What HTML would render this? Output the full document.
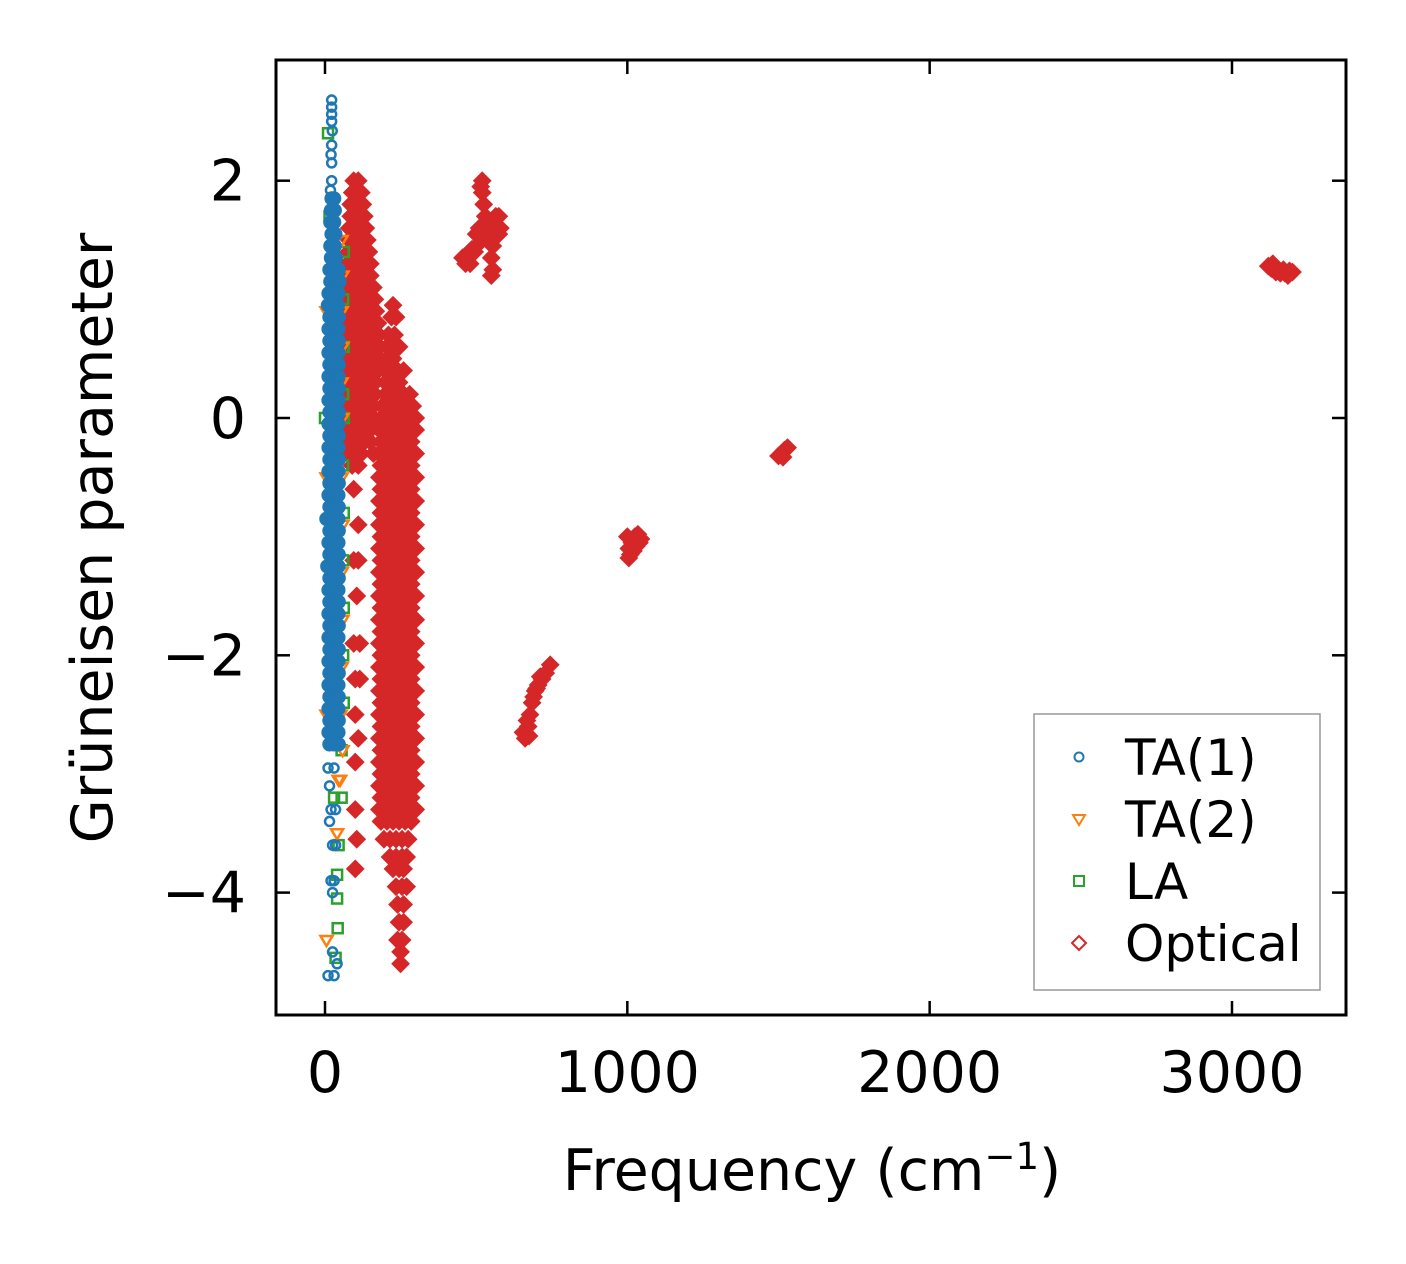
<!DOCTYPE html>
<html><head><meta charset="utf-8">
<style>
html,body{margin:0;padding:0;background:#fff;}
svg{display:block;font-family:"DejaVu Sans","Liberation Sans",sans-serif;}
</style></head>
<body>
<svg id="chart" width="1406" height="1264" viewBox="0 0 1406 1264">
<rect x="0" y="0" width="1406" height="1264" fill="#fff"/>
<g id="marks"></g>
<rect x="276" y="60" width="1070" height="955" fill="none" stroke="#000" stroke-width="3"/>
<g id="ticks"></g>
<text x="112" y="538" font-size="57" text-anchor="middle" transform="rotate(-90 112 538)">Grüneisen parameter</text>
<text x="812" y="1190" font-size="57" text-anchor="middle">Frequency (cm<tspan baseline-shift="super" font-size="37">−1</tspan>)</text>
<g>
<rect x="1034" y="714" width="286" height="276" fill="#fff" stroke="#999" stroke-width="1.5"/>
<circle cx="1079" cy="757" r="4.5" fill="none" stroke="#1f77b4" stroke-width="2"/>
<text x="1125" y="775" font-size="50">TA(1)</text>
<polygon points="1073,815 1085,815 1079,825" fill="none" stroke="#ff7f0e" stroke-width="2"/>
<text x="1125" y="837" font-size="50">TA(2)</text>
<rect x="1074" y="876" width="10" height="10" fill="none" stroke="#2ca02c" stroke-width="2"/>
<text x="1125" y="899" font-size="50">LA</text>
<polygon points="1079,936 1086,943 1079,950 1072,943" fill="none" stroke="#d62728" stroke-width="2"/>
<text x="1125" y="961" font-size="50">Optical</text>
</g>
</svg>
<script>
const xTicks=[0,1000,2000,3000];
const yTicks=[2,0,-2,-4];
const yTickLabels=["2","0","\u22122","\u22124"];
const colB=[180,200,220,240,260,280,300];
const colBn=[185,205,225,245,265,285];
const ta1Rows=[[2.68,[22]],[2.62,[22]],[2.56,[22]],[2.5,[22]],[2.42,[24]],[2.3,[22]],[2.22,[20]],[2.15,[22]],[2.0,[22]],[1.92,[18]],[1.85,[22,30]],[1.75,[20,32]],[1.65,[18,30]],[1.55,[22,34]],[1.45,[18,32]],[1.35,[20,36]],[1.25,[15,30,45]],[1.15,[18,34,48]],[1.05,[12,28,44]],[0.95,[10,26,42]],[0.85,[15,30,45]],[0.75,[12,28,44]],[0.65,[15,30,45]],[0.55,[12,28,44]],[0.45,[15,30,45]],[0.35,[12,28,44]],[0.25,[15,30,45]],[0.15,[12,28,44]],[0.05,[15,30,45]],[-0.05,[12,28,44]],[-0.15,[15,30,45]],[-0.25,[12,28,44]],[-0.35,[15,30,45]],[-0.45,[12,28,44]],[-0.55,[15,30,45]],[-0.65,[12,28,44]],[-0.75,[15,30,45]],[-0.85,[5,28,44]],[-0.95,[15,30,45]],[-1.05,[12,28,44]],[-1.15,[15,30,45]],[-1.25,[8,28,44]],[-1.35,[15,30,45]],[-1.45,[12,28,44]],[-1.55,[15,30,45]],[-1.65,[12,28,44]],[-1.75,[15,30,45]],[-1.85,[12,28,44]],[-1.95,[15,30,45]],[-2.05,[12,28,44]],[-2.15,[15,30,45]],[-2.25,[12,28,44]],[-2.35,[15,30,45]],[-2.45,[12,28,44]],[-2.55,[15,30,45]],[-2.65,[12,28,44]],[-2.75,[15,30,45]],[-2.95,[10,30]],[-3.1,[15]],[-3.3,[20,35]],[-3.4,[15]],[-3.6,[25,35]],[-3.9,[20,30]],[-4.0,[25]],[-4.5,[25]],[-4.6,[40]],[-4.7,[10,30]]];
const ta2Rows=[[1.5,[55]],[1.2,[58]],[0.9,[5,55]],[0.6,[58]],[0.3,[55]],[0.0,[58]],[-0.5,[5,55]],[-0.9,[58]],[-1.3,[55]],[-1.7,[58]],[-2.1,[55]],[-2.5,[5,52]],[-2.8,[58]],[-3.05,[45,50]],[-3.5,[40]],[-4.4,[5]]];
const laRows=[[2.4,[10]],[1.7,[15]],[1.4,[62]],[1.0,[60]],[0.6,[62]],[0.2,[60]],[0.0,[0,62]],[-0.4,[60]],[-0.8,[62]],[-1.2,[60]],[-1.6,[62]],[-2.0,[60]],[-2.4,[62]],[-2.8,[55]],[-3.2,[30,55]],[-3.6,[45]],[-3.85,[40]],[-4.05,[40]],[-4.3,[42]],[-4.55,[35]]];
const opticalRows=[[2.0,[95,110]],[1.9,[90,105,120]],[1.8,[85,100,115,125]],[1.7,[85,100,115,130]],[1.6,[80,95,110,125,135]],[1.5,[80,95,110,125,140]],[1.4,[78,92,106,120,135,145]],[1.3,[75,90,105,120,135,150]],[1.2,[75,90,105,120,135,150]],[1.1,[75,90,105,120,135,150,160]],[1.0,[72,88,104,120,136,152,165]],[0.95,[225]],[0.9,[72,88,104,120,136,152,168]],[0.85,[220,235]],[0.8,[70,86,102,118,134,150,166,175]],[0.7,[70,86,102,118,134,150,166,178,210,230]],[0.6,[70,86,102,118,134,150,166,180,205,225,245]],[0.5,[70,86,102,118,134,150,166,180,205,225]],[0.4,[70,86,102,118,134,150,166,175,200,220,240,260]],[0.3,[70,86,102,118,134,150,166,200,220,245]],[0.2,[70,86,102,118,134,150,165,200,220,240,260,280]],[0.1,[70,86,102,118,134,150,160,190,210,230,250,270,290]],[0.0,[70,86,102,118,134,150,160,185,205,225,245,265,285,300]],[-0.1,[70,86,102,118,134,150].concat(colB)],[-0.2,[70,90,110,130,150].concat(colBn)],[-0.3,[80,100,120,160].concat(colB)],[-0.4,[90,110].concat(colBn)],[-0.5,colB],[-0.6,[95].concat(colBn)],[-0.7,colB],[-0.8,colBn],[-0.9,[110].concat(colB)],[-1.0,colBn],[-1.1,colB],[-1.2,[95,110].concat(colBn)],[-1.3,colB],[-1.4,colBn],[-1.5,[105].concat(colB)],[-1.6,colBn],[-1.7,colB],[-1.8,colBn],[-1.9,[95,115].concat(colB)],[-2.0,colBn],[-2.1,colB],[-2.2,[100,115].concat(colBn)],[-2.3,colB],[-2.4,colBn],[-2.5,[100].concat(colB)],[-2.6,colBn],[-2.7,[110].concat(colB)],[-2.8,colBn],[-2.9,[100].concat(colB)],[-3.0,colBn],[-3.1,colB],[-3.2,colBn],[-3.3,[100].concat(colB)],[-3.4,colBn],[-3.55,[105,195,215,235,255,275]],[-3.7,[215,235,255,270]],[-3.8,[100,225,245,260]],[-3.95,[235,255,270]],[-4.1,[240,260]],[-4.25,[245,260]],[-4.4,[240,255]],[-4.5,[250]],[-4.6,[250]]];
const opticalPoints=[[455,1.35],[470,1.38],[485,1.42],[500,1.45],[520,1.5],[530,1.55],[545,1.6],[560,1.65],[575,1.7],[580,1.6],[520,2.0],[520,1.9],[525,1.8],[515,1.95],[540,1.5],[555,1.45],[550,1.35],[555,1.25],[550,1.2],[500,1.55],[510,1.6],[530,1.7],[575,1.55],[565,1.7],[465,1.3],[480,1.3],[495,1.4],[535,1.65],[655,-2.65],[662,-2.7],[672,-2.6],[678,-2.5],[685,-2.4],[695,-2.3],[705,-2.25],[718,-2.2],[730,-2.15],[745,-2.08],[668,-2.55],[690,-2.35],[675,-2.68],[700,-2.28],[712,-2.18],[1000,-1.0],[1005,-1.1],[1010,-1.15],[1015,-1.05],[1025,-1.0],[1035,-0.98],[1045,-1.02],[1020,-1.12],[1040,-1.05],[1030,-1.08],[1005,-1.18],[1500,-0.32],[1510,-0.3],[1520,-0.27],[1530,-0.25],[1515,-0.33],[3120,1.28],[3130,1.26],[3145,1.23],[3160,1.22],[3175,1.22],[3190,1.24],[3200,1.23],[3135,1.3],[3170,1.25],[3185,1.2]];

const NS="http://www.w3.org/2000/svg";
function xs(f){return 325+f*0.30233;}
function ys(g){return 418-g*118.65;}
const marks=document.getElementById('marks');
const ticksG=document.getElementById('ticks');
function mk(tag,attrs){const e=document.createElementNS(NS,tag);for(const k in attrs)e.setAttribute(k,attrs[k]);return e;}
function expand(rows){const out=[];rows.forEach(r=>r[1].forEach(f=>out.push([f,r[0]])));return out;}
function drawOptical(p){
  const x=xs(p[0]),y=ys(p[1]);
  const e=mk('polygon',{points:`${x},${y-8} ${x+8},${y} ${x},${y+8} ${x-8},${y}`,fill:'#d62728',stroke:'#d62728','stroke-width':2});
  
  
  marks.appendChild(e);
}
expand(opticalRows).forEach(drawOptical);
opticalPoints.forEach(drawOptical);
expand(laRows).forEach(p=>{
  const x=xs(p[0]),y=ys(p[1]);
  const e=mk('rect',{x:x-5,y:y-5,width:10,height:10,fill:'none',stroke:'#2ca02c','stroke-width':2.5});
  
  
  marks.appendChild(e);
});
expand(ta2Rows).forEach(p=>{
  const x=xs(p[0]),y=ys(p[1]);
  const e=mk('polygon',{points:`${x-6},${y-4} ${x+6},${y-4} ${x},${y+6}`,fill:'none',stroke:'#ff7f0e','stroke-width':2.5});
  
  
  marks.appendChild(e);
});
expand(ta1Rows).forEach(p=>{
  const dense=p[1]<1.9&&p[1]>-2.8;
  const e=mk('circle',{cx:xs(p[0]),cy:ys(p[1]),r:dense?6:4.5,fill:dense?'#1f77b4':'none',stroke:'#1f77b4','stroke-width':2.5});
  
  
  marks.appendChild(e);
});
xTicks.forEach(v=>{
  const x=xs(v);
  const t1=mk('line',{x1:x,y1:1015,x2:x,y2:1001,stroke:'#000','stroke-width':2.5});
  
  
  ticksG.appendChild(t1);
  const t2=mk('line',{x1:x,y1:60,x2:x,y2:74,stroke:'#000','stroke-width':2.5});
  
  
  ticksG.appendChild(t2);
  const l=mk('text',{x:x,y:1092,'font-size':57,'text-anchor':'middle'});
  l.textContent=String(v);
  
  
  ticksG.appendChild(l);
});
yTicks.forEach((v,i)=>{
  const y=ys(v);
  const t1=mk('line',{x1:276,y1:y,x2:290,y2:y,stroke:'#000','stroke-width':2.5});
  
  
  ticksG.appendChild(t1);
  const t2=mk('line',{x1:1346,y1:y,x2:1332,y2:y,stroke:'#000','stroke-width':2.5});
  
  
  ticksG.appendChild(t2);
  const l=mk('text',{x:246,y:y+20,'font-size':57,'text-anchor':'end'});
  l.textContent=yTickLabels[i];
  
  
  ticksG.appendChild(l);
});
</script>
</body></html>
